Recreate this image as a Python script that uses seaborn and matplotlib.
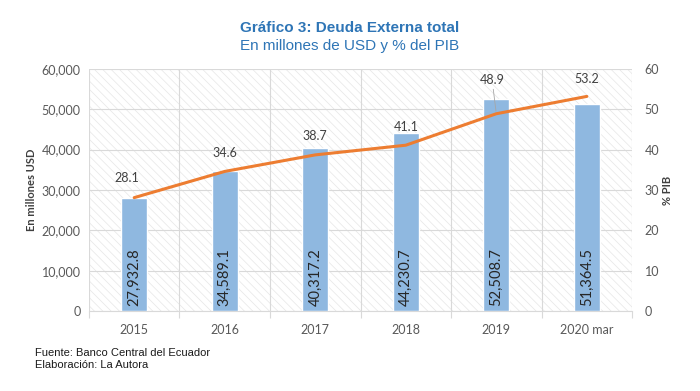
import numpy as np
import pandas as pd
import matplotlib
matplotlib.use("Agg")
import matplotlib.pyplot as plt
import seaborn as sns
from matplotlib.patches import Rectangle
from matplotlib.ticker import FuncFormatter, FixedLocator

categories = ["2015", "2016", "2017", "2018", "2019", "2020 mar"]
deuda_usd = [27932.8, 34589.1, 40317.2, 44230.7, 52508.7, 51364.5]
pct_pib = [28.1, 34.6, 38.7, 41.1, 48.9, 53.2]

sns.set_theme(style="white")
plt.rcParams["font.family"] = ["Lato", "DejaVu Sans"]
plt.rcParams["hatch.linewidth"] = 0.5
plt.rcParams["hatch.color"] = "#e6e6e6"

df = pd.DataFrame({"cat": categories, "usd": deuda_usd, "pib": pct_pib})

fig = plt.figure(figsize=(7.0, 3.91), dpi=100)
ax = fig.add_axes([0.127, 0.2046, 0.776, 0.619])

tick_col = "#595959"
grid_col = "#d9d9d9"

# hatched background
bg = Rectangle((0, 0), 1, 1, transform=ax.transAxes, facecolor="white",
               edgecolor="#e6e6e6", hatch="\\\\\\\\", linewidth=0, zorder=0)
ax.add_patch(bg)

sns.barplot(data=df, x="cat", y="usd", color="#8fb8e0", width=0.29,
            saturation=1, ax=ax, zorder=3)
ax.set_xlim(-0.5, len(categories) - 0.5)
ax.set_ylim(0, 60000)
ax.set_yticks(np.arange(0, 60001, 10000))
ax.yaxis.set_major_formatter(FuncFormatter(lambda v, p: f"{int(v):,}"))
ax.set_xlabel("")
ax.set_ylabel("En millones USD", fontsize=8, fontweight="bold", color="#404040", labelpad=3)
ax.tick_params(axis="y", length=0, labelsize=9, labelcolor=tick_col, pad=6)
ax.tick_params(axis="x", which="major", length=0, labelsize=9, labelcolor=tick_col, pad=9)
ax.xaxis.set_minor_locator(FixedLocator(np.arange(-0.5, len(categories), 1.0)))
ax.tick_params(axis="x", which="minor", length=5, width=0.8, color=grid_col, bottom=True)
ax.grid(axis="y", color=grid_col, linewidth=0.8, zorder=1)
ax.grid(axis="x", which="minor", color=grid_col, linewidth=0.8, zorder=1)
for s in ["top", "left", "right"]:
    ax.spines[s].set_visible(False)
ax.spines["bottom"].set_color(grid_col)
ax.spines["bottom"].set_linewidth(0.8)
ax.set_axisbelow(True)

bars = [b for b in ax.patches if b is not bg]
for b, v in zip(bars, deuda_usd):
    ax.text(b.get_x() + b.get_width() / 2, 1200, f"{v:,.1f}", rotation=90,
            ha="center", va="bottom", fontsize=10.5, color="#262626", zorder=5)

ax2 = ax.twinx()
sns.lineplot(x=np.arange(len(categories)), y=pct_pib, ax=ax2, color="#ed7d31",
             linewidth=2.2, zorder=4)
ax2.set_ylim(0, 60)
ax2.set_yticks(np.arange(0, 61, 10))
ax2.tick_params(axis="y", length=0, labelsize=9, labelcolor=tick_col, pad=9)
ax2.set_ylabel("% PIB", fontsize=8, fontweight="bold", color="#404040", labelpad=2)
for s in ["top", "left", "right", "bottom"]:
    ax2.spines[s].set_visible(False)
ax2.grid(False)

offsets = [(-5, 10), (0, 9), (0, 9), (0, 9), (-3, 20), (0, 8)]
for i, (v, (dx, dy)) in enumerate(zip(pct_pib, offsets)):
    if i == 4:
        ax2.annotate(f"{v:.1f}", xy=(i, v), xytext=(dx, dy), textcoords="offset points",
                     ha="center", va="bottom", fontsize=9, color="#404040",
                     arrowprops=dict(arrowstyle="-", color="#a6a6a6", lw=0.6, shrinkA=0, shrinkB=2))
    else:
        ax2.annotate(f"{v:.1f}", xy=(i, v), xytext=(dx, dy), textcoords="offset points",
                     ha="center", va="bottom", fontsize=9, color="#404040")

fig.text(0.5, 0.928, "Gráfico 3: Deuda Externa total", ha="center", va="center",
         fontsize=11, fontweight="bold", color="#2e75b6", family=["Liberation Sans", "DejaVu Sans"])
fig.text(0.5, 0.882, "En millones de USD y % del PIB", ha="center", va="center",
         fontsize=11, color="#2e75b6", family=["Liberation Sans", "DejaVu Sans"])
fig.text(0.05, 0.097, "Fuente: Banco Central del Ecuador", ha="left", va="center",
         fontsize=8, color="#1a1a1a", family=["Liberation Sans", "DejaVu Sans"])
fig.text(0.05, 0.066, "Elaboración: La Autora", ha="left", va="center",
         fontsize=8, color="#1a1a1a", family=["Liberation Sans", "DejaVu Sans"])

fig.savefig("out.png", dpi=100)
